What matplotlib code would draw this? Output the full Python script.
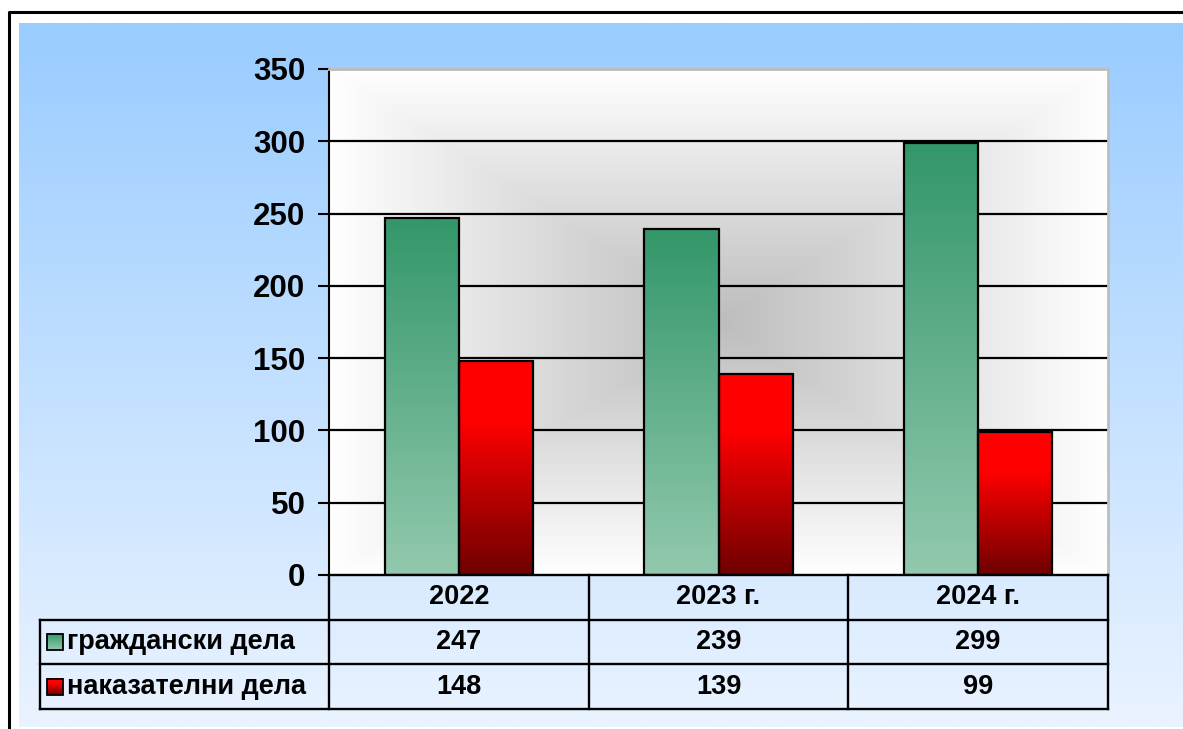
import numpy as np
import matplotlib.pyplot as plt
from matplotlib.colors import to_rgb

plt.rcParams['font.family'] = ['Liberation Sans', 'DejaVu Sans']
plt.rcParams['font.weight'] = 'bold'

# data
years = ['2022', '2023 г.', '2024 г.']
series_names = ['граждански дела', 'наказателни дела']
civil = [247, 239, 299]
criminal = [148, 139, 99]
yticks = [0, 50, 100, 150, 200, 250, 300, 350]

W, H = 1183, 729
fig = plt.figure(figsize=(W / 100, H / 100), dpi=100)
fig.patch.set_facecolor('white')


def fig_rect(x0, y0, x1, y1):
    # pixel box (top-left origin) -> figure fraction
    return [x0 / W, 1 - y1 / H, (x1 - x0) / W, (y1 - y0) / H]


def vgrad(c_bottom, c_top, n=256, stops=None):
    cb = np.array(to_rgb(c_bottom))
    ct = np.array(to_rgb(c_top))
    t = np.linspace(0, 1, n)
    if stops is not None:
        t = np.clip(t / stops, 0, 1)
    return (cb[None, :] * (1 - t[:, None]) + ct[None, :] * t[:, None])[:, None, :]


# background with frame
bg = fig.add_axes([0, 0, 1, 1], zorder=0)
bg.set_xlim(0, W)
bg.set_ylim(H, 0)
bg.axis('off')
bg.imshow(vgrad('#EAF3FF', '#99CCFF')[::-1], extent=[19, W, 727, 23], aspect='auto')
bg.plot([9, 9, W], [H, 12, 12], color='black', lw=2.2, solid_capstyle='projecting')

# main plot
ax = fig.add_axes(fig_rect(329, 69, 1108, 575), zorder=1)
ax.set_xlim(-0.5, 2.5)
ax.set_ylim(0, 350)

# plot area rectangular "from center" shading
nx, ny = 400, 300
u = np.abs(np.linspace(-1, 1, nx))[None, :]
v = np.abs(np.linspace(-1, 1, ny))[:, None]
t = np.maximum(u, v)
shade = 0.74 + (1.0 - 0.74) * t
img = np.dstack([shade, shade, shade])
ax.imshow(img, extent=[-0.5, 2.5, 0, 350], aspect='auto', zorder=0)

for yv in yticks[1:]:
    ax.axhline(yv, color='black', lw=1.6, zorder=1)

x = np.arange(len(years))
bw = 0.285
green_img = vgrad('#93C9AE', '#33976A')
red_img = vgrad('#6E0000', '#FF0000', stops=0.72)
b1 = ax.bar(x - bw / 2, civil, bw, facecolor='none', edgecolor='black', lw=1.6, zorder=3)
b2 = ax.bar(x + bw / 2, criminal, bw, facecolor='none', edgecolor='black', lw=1.6, zorder=3)
for bars, im in ((b1, green_img), (b2, red_img)):
    for p in bars:
        ax.imshow(im, extent=[p.get_x(), p.get_x() + p.get_width(), 0, p.get_height()],
                  origin='lower', aspect='auto', zorder=2)
ax.set_xlim(-0.5, 2.5)
ax.set_ylim(0, 350)

ax.set_xticks([])
ax.set_yticks(yticks)
ax.set_yticklabels([str(v) for v in yticks], fontsize=22.5, fontweight='bold')
ax.tick_params(axis='y', direction='out', length=8, width=1.5, pad=9, colors='black')
for s in ('top', 'right'):
    ax.spines[s].set_color('#BDBDBD')
    ax.spines[s].set_linewidth(2)
ax.spines['left'].set_linewidth(1.5)
ax.spines['bottom'].set_visible(False)

# data table
tb = fig.add_axes(fig_rect(329, 575, 1108, 709), zorder=2)
tb.set_xlim(-0.5, 2.5)
tb.set_ylim(3, 0)
tb.axis('off')
xl = (40 - 329) / ((1108 - 329) / 3) - 0.5
lk = dict(color='black', lw=1.7, clip_on=False, solid_capstyle='projecting')
tb.plot([-0.5, 2.5], [0, 0], **lk)
tb.plot([xl, 2.5], [1, 1], **lk)
tb.plot([xl, 2.5], [2, 2], **lk)
tb.plot([xl, 2.5], [3, 3], **lk)
tb.plot([xl, xl], [1, 3], **lk)
for xv in [-0.5, 0.5, 1.5, 2.5]:
    tb.plot([xv, xv], [0, 3], **lk)

fs = 19.5
for i, yr in enumerate(years):
    tb.text(i, 0.5, yr, ha='center', va='center', fontsize=fs, fontweight='bold')
    tb.text(i, 1.5, str(civil[i]), ha='center', va='center', fontsize=fs, fontweight='bold')
    tb.text(i, 2.5, str(criminal[i]), ha='center', va='center', fontsize=fs, fontweight='bold')

# legend keys + labels in row header
ppx = 3 / (1108 - 329)
key_w = 16 * ppx
for r, (name, im) in enumerate(zip(series_names, (green_img, red_img))):
    row = 1 + r
    kx0 = (47 - 329) * ppx - 0.5
    ky0, ky1 = row + 0.32, row + 0.68
    tb.imshow(im, extent=[kx0, kx0 + key_w, ky1, ky0], origin='lower', aspect='auto',
              clip_on=False, zorder=2)
    tb.add_patch(plt.Rectangle((kx0, ky0), key_w, ky1 - ky0, fill=False, ec='black',
                               lw=1.3, clip_on=False, zorder=3))
    tb.text((67 - 329) * ppx - 0.5, row + 0.5, name, ha='left', va='center',
            fontsize=fs, fontweight='bold', clip_on=False)
tb.set_xlim(-0.5, 2.5)
tb.set_ylim(3, 0)

fig.savefig('out.png', dpi=100)
